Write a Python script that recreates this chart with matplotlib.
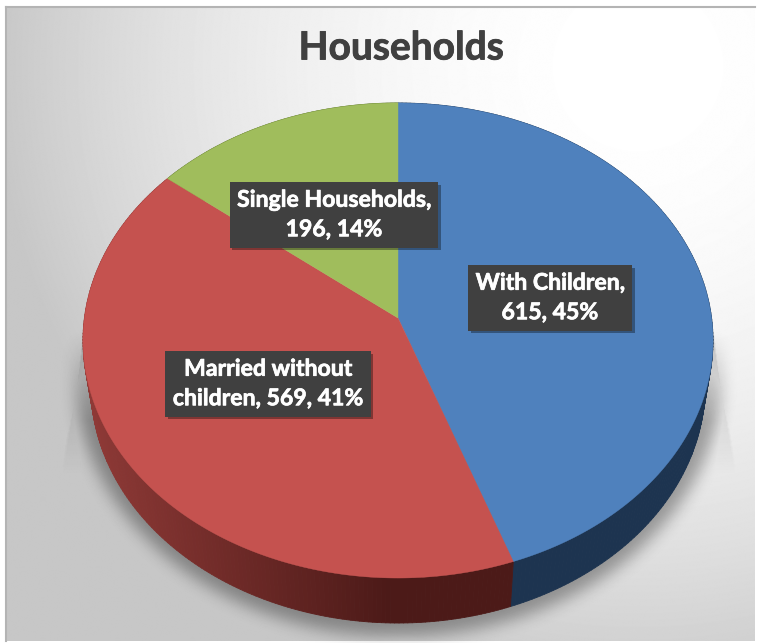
#!/usr/bin/env python3
import numpy as np
import matplotlib
matplotlib.use("Agg")
import matplotlib.pyplot as plt
import matplotlib.patheffects as pe
from matplotlib.collections import PolyCollection
from matplotlib.colors import to_rgb

categories = ["With Children", "Married without children", "Single Households"]
values = [615, 569, 196]
label_texts = ["With Children,\n615, 45%", "Married without\nchildren, 569, 41%", "Single Households,\n196, 14%"]
label_xy = [(550, 298), (268, 384), (334, 215)]
top_colors = ["#4f81bd", "#c5524f", "#a0bd5c"]
side_left = ["#1d3450", "#8e3936", "#5f7530"]
side_right = ["#1d3450", "#4c1a18", "#5f7530"]

W, H = 759, 643
CX, CY = 398, 318
R, S, K = 313.6, 235.4, 0.0947
DEPTH = 45
SHRINK = 0.975

plt.rcParams["font.family"] = ["Lato", "DejaVu Sans"]


def project(theta, r=1.0):
    # theta is clockwise from 12 o'clock, the far side of the disc is foreshortened
    u = r * np.sin(theta)
    v = r * np.cos(theta)
    w = 1 + K * v
    return CX + R * u / w, CY - S * v / w


def blur(a, size, passes=3):
    kernel = np.ones(size) / size
    for _ in range(passes):
        a = np.apply_along_axis(lambda m: np.convolve(m, kernel, mode="same"), 0, a)
        a = np.apply_along_axis(lambda m: np.convolve(m, kernel, mode="same"), 1, a)
    return a


fig = plt.figure(figsize=(W / 100, H / 100), dpi=100, facecolor="white")
ax = fig.add_axes([0, 0, 1, 1])
ax.set_xlim(0, W)
ax.set_ylim(H, 0)
ax.axis("off")

# background gradient
yy, xx = np.mgrid[0:H, 0:W]
dist = np.hypot(xx - 640, yy - 60)
bg = np.clip(1 - 0.22 * (dist / 650) ** 2, 0.78, 1)
ax.imshow(bg, cmap="gray", vmin=0, vmax=1, extent=(6, 755, 641, 7), aspect="auto", zorder=0)
ax.plot([6, 6], [7, 641], color="#b4b4b4", lw=1.5, zorder=1)
ax.plot([6, 755], [7, 7], color="#b4b4b4", lw=1.5, zorder=1)

# soft shadow under the pie
mask = ((xx - 398) / 324) ** 2 + ((yy - 372) / 264) ** 2 < 1
shadow = blur(mask.astype(float), 15) * 0.34 * np.clip((yy - 330) / 90, 0, 1)
fade = np.clip((475 - yy) / 140, 0, 1)
left_edge = 83 - (yy - 335) * 21 / 135
right_edge = 713 + (yy - 335) * 22 / 135
wedge = ((xx > left_edge) & (xx < 398) | (xx < right_edge) & (xx >= 398)) & (yy > 335) & (yy < 475)
shadow = np.maximum(shadow, blur(wedge.astype(float), 3, 1) * fade * 0.2)
rgba = np.zeros((H, W, 4))
rgba[..., 3] = shadow
ax.imshow(rgba, extent=(0, W, H, 0), aspect="auto", zorder=2)
ax.set_xlim(0, W)
ax.set_ylim(H, 0)

# slice boundaries, clockwise from the top
edges = np.cumsum([0] + values) / sum(values) * 2 * np.pi

# side wall, drawn as thin quads so the shade can change along the rim
for i in range(len(values)):
    th = np.linspace(edges[i], edges[i + 1], 200)
    x, y = project(th)
    xb = CX + (x - CX) * SHRINK
    yb = y + DEPTH
    quads = []
    cols = []
    c0, c1 = np.array(to_rgb(side_left[i])), np.array(to_rgb(side_right[i]))
    for j in range(len(th) - 1):
        quads.append([(x[j], y[j]), (x[j + 1], y[j + 1]), (xb[j + 1], yb[j + 1]), (xb[j], yb[j])])
        t = np.clip((x[j] - 90) / 300, 0, 1)
        cols.append(c0 + (c1 - c0) * t)
    ax.add_collection(PolyCollection(quads, facecolors=cols, edgecolors=cols, linewidths=0.6, zorder=3))

# top faces
for i in range(len(values)):
    th = np.linspace(edges[i], edges[i + 1], 200)
    x, y = project(th)
    ax.fill(np.r_[CX, x], np.r_[CY, y], color=top_colors[i], lw=0.3, zorder=4)

title = ax.text(401, 48, "Households", ha="center", va="center", fontsize=28, fontweight="bold", color="#404040", zorder=6)
title.set_path_effects([pe.withStroke(linewidth=0.6, foreground="#404040")])

for txt, (lx, ly) in zip(label_texts, label_xy):
    t = ax.text(lx, ly, txt, ha="center", va="center", fontsize=16.6, fontweight="bold", color="white",
                linespacing=1.5, zorder=6, multialignment="center",
                bbox=dict(boxstyle="square,pad=0.32", facecolor="#404040", edgecolor="none"))
    t.set_path_effects([pe.withStroke(linewidth=0.5, foreground="white")])
    t.get_bbox_patch().set_path_effects([
        pe.SimplePatchShadow(offset=(2, -2), shadow_rgbFace="black", alpha=0.35), pe.Normal()])

fig.savefig("out.png", dpi=100, facecolor="white")
